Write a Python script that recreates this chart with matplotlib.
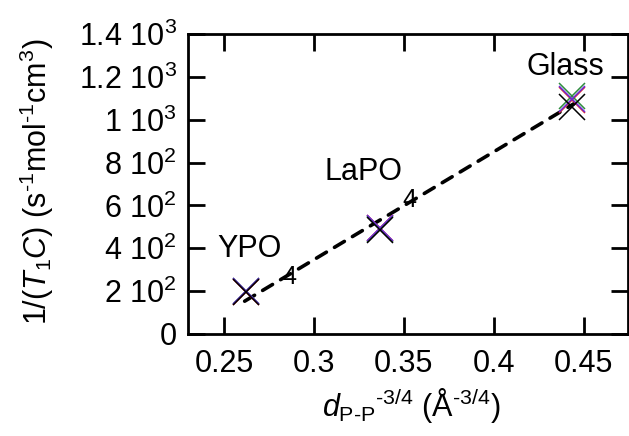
import matplotlib
matplotlib.use("Agg")
import matplotlib.pyplot as plt
from matplotlib.ticker import FixedLocator, FixedFormatter

plt.rcParams['font.family'] = ['Liberation Sans', 'DejaVu Sans']
plt.rcParams['mathtext.fontset'] = 'custom'
plt.rcParams['mathtext.rm'] = 'Liberation Sans'
plt.rcParams['mathtext.it'] = 'Liberation Sans:italic'
plt.rcParams['mathtext.bf'] = 'Liberation Sans:bold'

# data
x_vals = [0.2625, 0.3365, 0.4435]
series_red = [197, 495, 1092]
series_green = [200, 490, 1110]
series_purple = [199, 496, 1096]
series_black = [198, 486, 1058]
series_colors = ['#e0202a', '#2e8b3e', '#6a2fd6', '#000000']

fit_x = [0.2615, 0.4449]
fit_y = [153, 1076]

label_main = ['YPO', 'LaPO', 'Glass']
label_sub = ['4', '4', '']
label_x = [0.2465, 0.3059, 0.4182]
label_y = [361, 719, 1209]

xticks = [0.25, 0.3, 0.35, 0.4, 0.45]
xticklabels = ['0.25', '0.3', '0.35', '0.4', '0.45']
yticks = [0, 200, 400, 600, 800, 1000, 1200, 1400]
yticklabels = ['0', '2 10$^2$', '4 10$^2$', '6 10$^2$', '8 10$^2$',
               '1 10$^3$', '1.2 10$^3$', '1.4 10$^3$']

HY = '\u2010'

fig = plt.figure(figsize=(6.29, 4.36), dpi=100)
ax = fig.add_axes([0.2989, 0.234, 0.699, 0.688])

ax.plot(fit_x, fit_y, color='black', lw=2.6, ls=(0, (3.2, 2.6)), dash_capstyle='round', zorder=2)

for ys, c in zip([series_red, series_green, series_purple, series_black], series_colors):
    ax.plot(x_vals, ys, ls='none', marker='x', markersize=19, mew=1.1, color=c, zorder=3)

for m, s, lx, ly in zip(label_main, label_sub, label_x, label_y):
    t = ax.text(lx, ly, m, fontsize=22, ha='left', va='baseline')
    if s:
        ax.annotate(s, xy=(1, 0), xycoords=t, xytext=(0, -1), textcoords='offset points',
                    fontsize=18, ha='left', va='top')

ax.set_xlim(0.23, 0.4745)
ax.set_ylim(0, 1400)
ax.xaxis.set_major_locator(FixedLocator(xticks))
ax.xaxis.set_major_formatter(FixedFormatter(xticklabels))
ax.yaxis.set_major_locator(FixedLocator(yticks))
ax.yaxis.set_major_formatter(FixedFormatter(yticklabels))

ax.tick_params(direction='in', length=12, width=2, labelsize=22, pad=8,
               top=True, right=True)
ax.tick_params(axis='x', pad=11)
for sp in ax.spines.values():
    sp.set_linewidth(2)

ax.set_xlabel(r'$\mathit{d}_{\mathrm{P' + HY + r'P}}{}^{\mathrm{' + HY + r'3/4}}$ (Å$^{\mathrm{' + HY + r'3/4}}$)',
              fontsize=22)
ax.set_ylabel(r'1/($\mathit{T}_{1}\mathit{C}$) (s$^{\mathrm{' + HY + r'1}}$mol$^{\mathrm{' + HY + r'1}}$cm$^{3}$)',
              fontsize=22)
ax.xaxis.set_label_coords(0.508, -0.175)
ax.yaxis.set_label_coords(-0.30, 0.507)

fig.savefig('out.png', dpi=100)
